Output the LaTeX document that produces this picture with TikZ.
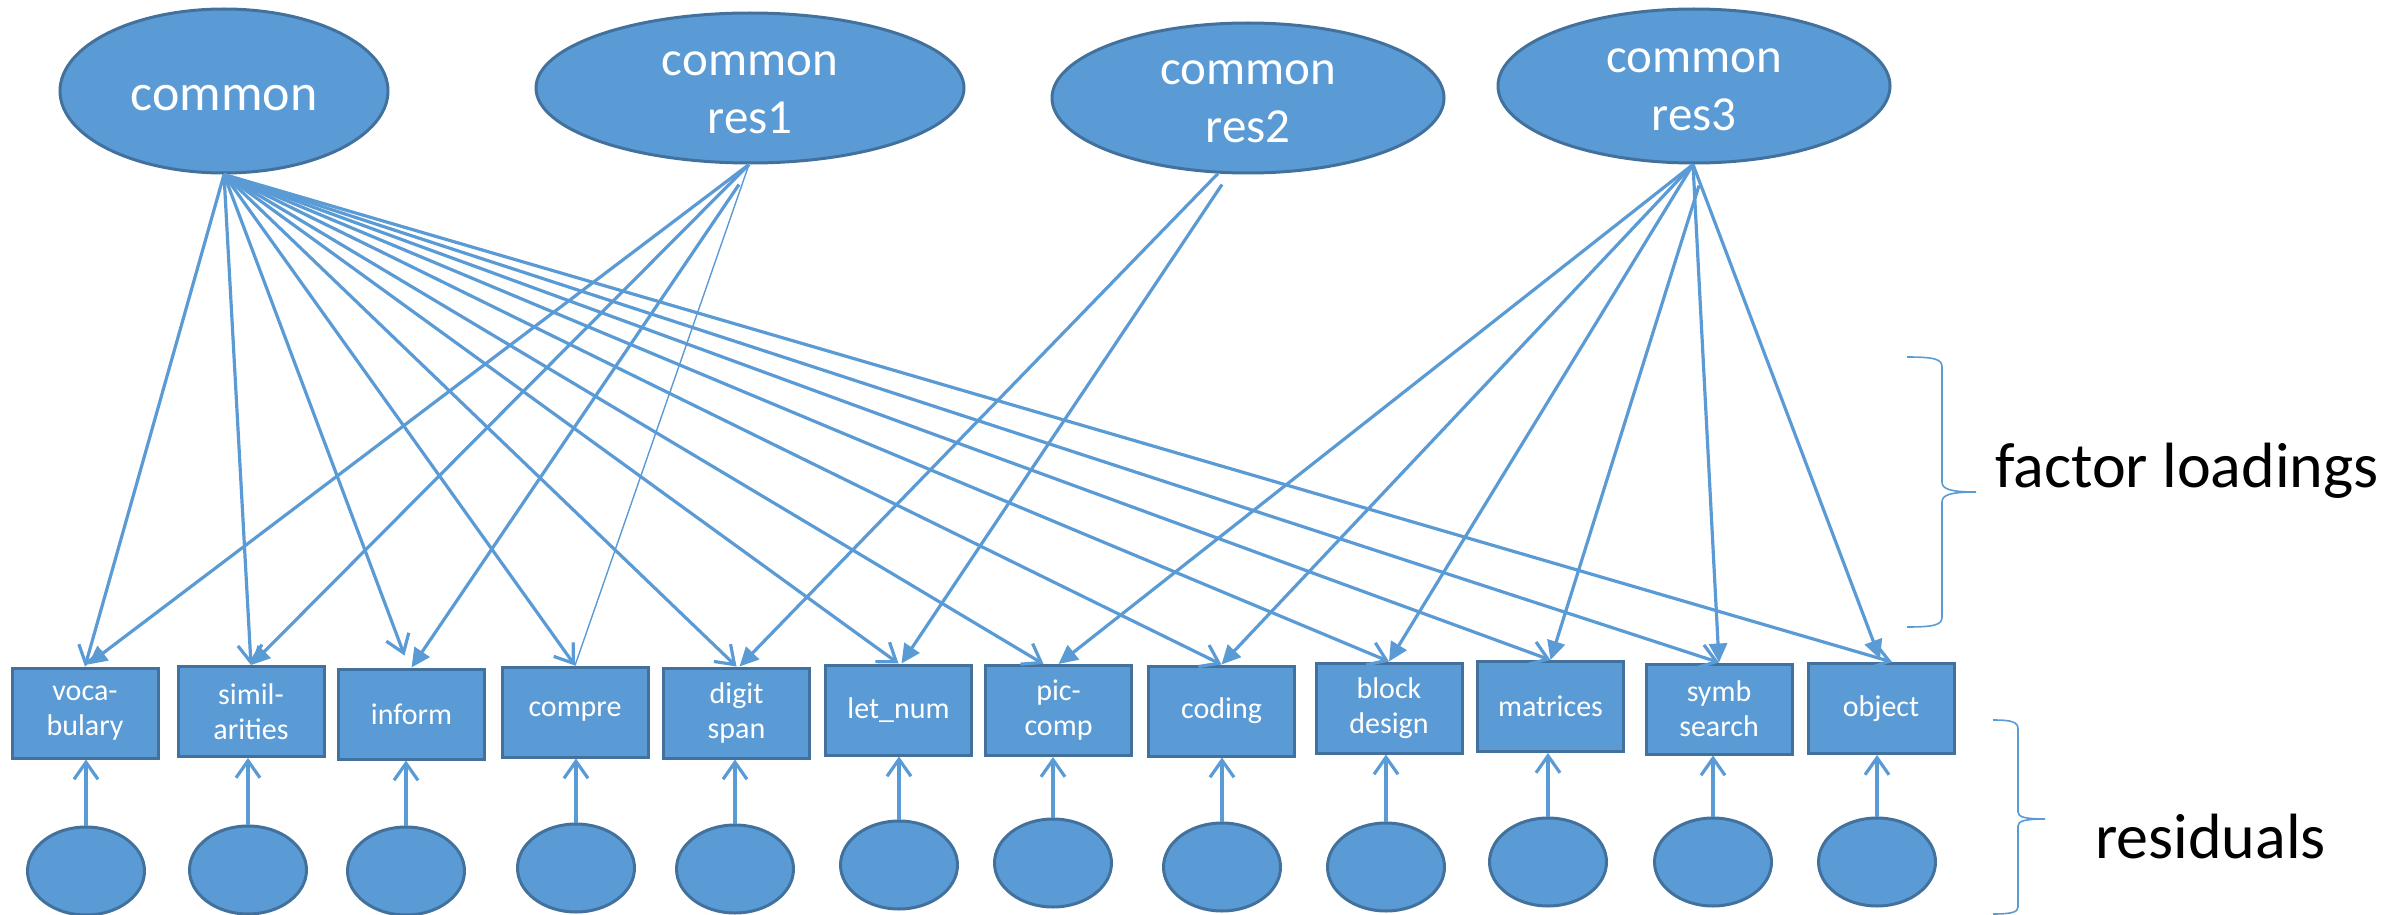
\documentclass[tikz,border=0pt]{standalone}
\usepackage{fontspec}
\setmainfont{Carlito}
\usetikzlibrary{arrows.meta,calc,shapes.geometric}
\definecolor{fillblue}{HTML}{5B9BD5}
\definecolor{edgeblue}{HTML}{41719C}

\tikzset{
  latent/.style={ellipse, draw=edgeblue, line width=3pt, fill=fillblue, inner sep=0pt},
  ftext/.style={text=white, align=center, inner sep=0pt, font=\fontsize{49}{58}\selectfont},
  measure/.style={rectangle, draw=edgeblue, line width=3pt, fill=fillblue,
    minimum width=146pt, minimum height=90pt, inner sep=0pt, text=white,
    align=center, font=\fontsize{30}{35}\selectfont},
  resnode/.style={latent, minimum width=117pt, minimum height=88pt},
  load/.style={draw=fillblue, line width=3.2pt, -{Straight Barb[length=17pt,width=24pt]}},
  spec/.style={draw=fillblue, line width=3.2pt, -{Triangle[length=19pt,width=18pt]}},
  thinload/.style={draw=fillblue, line width=1.4pt},
  resid/.style={draw=fillblue, line width=3.2pt, -{Straight Barb[length=17pt,width=24pt]}},
  bracket/.style={draw=fillblue, line width=1.6pt},
  sidetext/.style={text=black, inner sep=0pt, font=\fontsize{64}{70}\selectfont}
}

\begin{document}
\begin{tikzpicture}[x=1pt,y=-1pt]
\useasboundingbox (0,0) rectangle (2399,915);

% latent factors
\node[latent, minimum width=328pt, minimum height=164pt] (common) at (224,91) {};
\node[latent, minimum width=428pt, minimum height=150pt] (res1) at (750,88) {};
\node[latent, minimum width=392pt, minimum height=150pt] (res2) at (1248,98) {};
\node[latent, minimum width=392pt, minimum height=154pt] (res3) at (1694,86) {};
\node[ftext, font=\fontsize{52}{60}\selectfont] (common-t) at ($(common.center)+(0,7)$) {common};
\node[ftext] (res1-t) at ($(res1.center)+(0,5)$) {common\\res1};
\node[ftext] (res2-t) at ($(res2.center)+(0,4)$) {common\\res2};
\node[ftext] (res3-t) at ($(res3.center)+(0,4)$) {common\\res3};

% observed subtests
\node[measure] (b1)  at (85,713)    {voca-\\bulary};
\node[measure] (b2)  at (251,711.5) {simil-\\arities};
\node[measure] (b3)  at (411.5,714) {inform};
\node[measure] (b4)  at (575,712)   {compre};
\node[measure] (b5)  at (736.5,713) {digit\\span};
\node[measure] (b6)  at (898.5,710) {let\_num};
\node[measure] (b7)  at (1058.5,710.5) {pic-\\comp};
\node[measure] (b8)  at (1221.5,711) {coding};
\node[measure] (b9)  at (1389,708)  {block\\design};
\node[measure] (b10) at (1550.5,706.5) {matrices};
\node[measure] (b11) at (1719,709)  {symb\\search};
\node[measure] (b12) at (1881,708.5) {object};

% residual terms
\node[resnode] (e1)  at (86,871) {};
\node[resnode] (e2)  at (248,870) {};
\node[resnode] (e3)  at (406,871) {};
\node[resnode] (e4)  at (576,868) {};
\node[resnode] (e5)  at (735,869) {};
\node[resnode] (e6)  at (899,865) {};
\node[resnode] (e7)  at (1053,863) {};
\node[resnode] (e8)  at (1222,867) {};
\node[resnode] (e9)  at (1386,867) {};
\node[resnode] (e10) at (1548,862) {};
\node[resnode] (e11) at (1713,862) {};
\node[resnode] (e12) at (1877,862) {};

% start points of the specific loadings
\coordinate (r1a) at ($(res1.south)+(-1,0)$);
\coordinate (r1b) at ($(res1.south)+(-11,20)$);
\coordinate (r2a) at ($(res2.south)+(-30,-1)$);
\coordinate (r2b) at ($(res2.south)+(-26,10)$);
\coordinate (r3a) at ($(res3.south)+(-1,0)$);
\coordinate (r3b) at ($(res3.south)+(5,21)$);

% general factor loadings
\draw[load] (common.south) -- (b1.north);
\draw[load] (common.south) -- (b2.north);
\draw[load] (common.south) -- ($(b3.north)+(-7,-12)$);
\draw[load] (common.south) -- (b4.north);
\draw[load] (common.south) -- (b5.north);
\draw[load] (common.south) -- (b6.north);
\draw[load] (common.south) -- ($(b7.north)+(-15,0)$);
\draw[load] (common.south) -- (b8.north);
\draw[load] (common.south) -- (b9.north);
\draw[load] (common.south) -- (b10.north);
\draw[load] (common.south) -- (b11.north);
\draw[load] (common.south) -- ($(b12.north)+(11,0)$);

% specific factor loadings
\draw[spec] (r1a) -- ($(b1.north)+(3,-2)$);
\draw[spec] (r1a) -- (b2.north);
\draw[spec] (r1b) -- (b3.north);
\draw[thinload] (r1a) -- (b4.north);
\draw[spec] (r2a) -- ($(b5.north)+(3,0)$);
\draw[spec] (r2b) -- ($(b6.north)+(3,0)$);
\draw[spec] (r3a) -- (b7.north);
\draw[spec] (r3a) -- (b8.north);
\draw[spec] (r3a) -- (b9.north);
\draw[spec] (r3b) -- (b10.north);
\draw[spec] (r3a) -- (b11.north);
\draw[spec] (r3a) -- ($(b12.north)+(-1,-3)$);

% residual paths
\foreach \i in {1,...,12}
  \draw[resid] (e\i.north) -- (e\i.north |- b\i.south);

% braces and their labels
\draw[bracket] (1907,357) .. controls (1934,357) and (1942,359) .. (1942,367)
  -- (1942,482) .. controls (1942,489) and (1950,492) .. (1976,492)
  .. controls (1950,492) and (1942,495) .. (1942,502)
  -- (1942,617) .. controls (1942,625) and (1934,627) .. (1907,627);
\draw[bracket] (1993,720) .. controls (2012,720) and (2018,722) .. (2018,729)
  -- (2018,812) .. controls (2018,817) and (2025,819) .. (2045,819)
  .. controls (2025,819) and (2018,821) .. (2018,826)
  -- (2018,907) .. controls (2018,912) and (2012,914) .. (1993,914);
\node[sidetext, anchor=base west] (fl) at (1995,487) {factor loadings};
\node[sidetext, anchor=base west] (rs) at (2095,858) {residuals};
\end{tikzpicture}
\end{document}
